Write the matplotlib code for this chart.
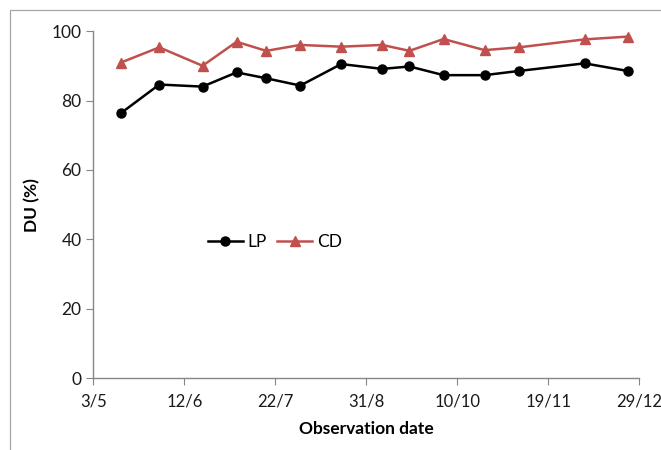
import numpy as np
import pandas as pd
import matplotlib.pyplot as plt
import matplotlib.dates as mdates
from matplotlib.patches import Rectangle

plt.rcParams['font.family'] = ['Lato', 'DejaVu Sans']

dates = pd.to_datetime(["2013-05-15", "2013-06-01", "2013-06-20", "2013-07-05",
                        "2013-07-18", "2013-08-02", "2013-08-20", "2013-09-07",
                        "2013-09-19", "2013-10-04", "2013-10-22", "2013-11-06",
                        "2013-12-05", "2013-12-24"])
lp = [76.3, 84.6, 84.0, 88.1, 86.4, 84.3, 90.5, 89.1, 89.8, 87.3, 87.3, 88.5, 90.7, 88.5]
cd = [90.9, 95.3, 90.0, 96.9, 94.3, 96.0, 95.5, 96.0, 94.3, 97.7, 94.5, 95.3, 97.6, 98.4]

fig = plt.figure(figsize=(6.61, 4.5), dpi=100)
ax = fig.add_axes([0.1412, 0.1593, 0.8258, 0.7717])

# outer chart border (runs off the right and bottom edges, as in the source)
fig.patches.append(Rectangle((0.015, -0.05), 1.1, 1.028, transform=fig.transFigure,
                             fill=False, edgecolor='#a6a6a6', linewidth=0.9))

ax.plot(dates, lp, color='black', marker='o', markersize=6.5, linewidth=1.8, label='LP')
ax.plot(dates, cd, color='#c0504d', marker='^', markersize=7, linewidth=1.8, label='CD')

start = pd.Timestamp("2013-05-03")
ticks = [start + pd.Timedelta(days=40 * i) for i in range(7)]
ax.set_xlim(ticks[0], ticks[-1])
ax.set_xticks(ticks)
ax.xaxis.set_major_formatter(mdates.DateFormatter('%-d/%-m'))
ax.set_ylim(0, 100)
ax.set_yticks(range(0, 101, 20))

for s in ['top', 'right']:
    ax.spines[s].set_visible(False)
for s in ['left', 'bottom']:
    ax.spines[s].set_color('#868686')
    ax.spines[s].set_linewidth(1.0)
ax.tick_params(axis='both', colors='#868686', length=5, labelsize=12.5, labelcolor='#1a1a1a')
ax.tick_params(axis='x', pad=6, labelsize=12)

ax.set_xlabel('Observation date', fontsize=12.5, fontweight='bold', labelpad=8)
ax.set_ylabel('DU (%)', fontsize=12.5, fontweight='bold', labelpad=8)

ax.legend(loc='center', bbox_to_anchor=(0.333, 0.392), ncol=2, frameon=False,
          fontsize=12.5, handlelength=2.0, columnspacing=0.6, handletextpad=0.3)

fig.savefig('out.png', dpi=100)
